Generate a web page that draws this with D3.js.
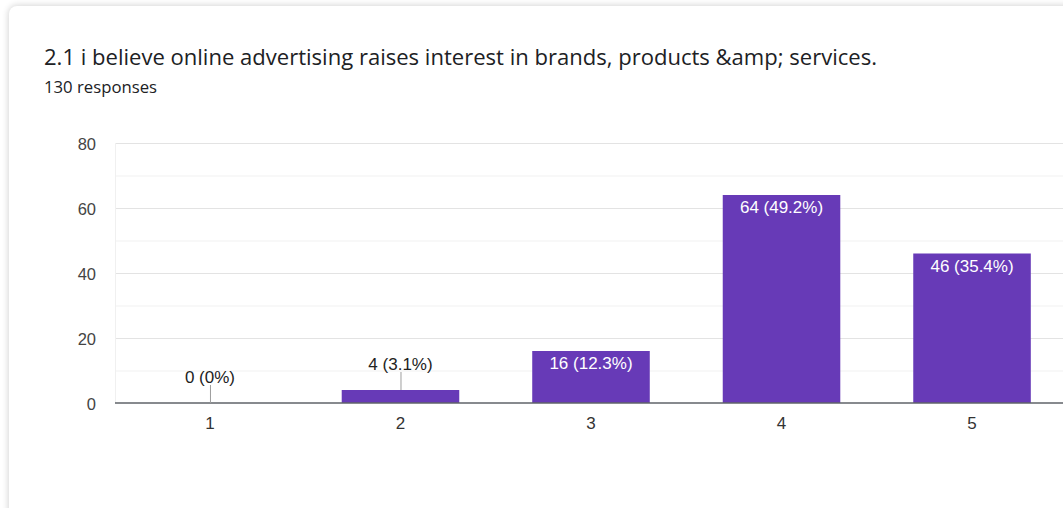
<!DOCTYPE html>
<html>
<head>
<meta charset="utf-8">
<script src="https://cdn.jsdelivr.net/npm/d3@7"></script>
<style>
  html, body { margin: 0; padding: 0; background: #fff; overflow: hidden; }
  body { width: 1063px; height: 508px; position: relative; }
  .card {
    position: absolute; left: 9px; top: 6px; width: 1100px; height: 560px;
    background: #fff; border-radius: 8px;
    box-shadow: 0 0 6px 1px rgba(0,0,0,0.16);
  }
  svg { position: absolute; left: 0; top: 0; }
</style>
</head>
<body>
<div class="card"></div>
<svg id="chart" width="1063" height="508"></svg>
<script>
const title = "2.1 i believe online advertising raises interest in brands, products &amp; services.";
const subtitle = "130 responses";
const categories = ["1", "2", "3", "4", "5"];
const counts = [0, 4, 16, 64, 46];
const percents = ["0%", "3.1%", "12.3%", "49.2%", "35.4%"];
const yTicks = [0, 20, 40, 60, 80];
const yMinorTicks = [10, 30, 50, 70];

const svg = d3.select("#chart");
const plot = { left: 115, right: 1067, top: 143, bottom: 403 };
const labelFont = "'Liberation Sans', Arial, sans-serif";

svg.append("text")
  .attr("x", 44).attr("y", 65)
  .attr("font-family", "'Open Sans', Roboto, sans-serif")
  .attr("font-size", 21.5)
  .attr("fill", "#202124")
  .attr("textLength", 833).attr("lengthAdjust", "spacingAndGlyphs")
  .text(title);

svg.append("text")
  .attr("x", 44).attr("y", 93)
  .attr("font-family", "'Open Sans', Roboto, sans-serif")
  .attr("font-size", 15.5)
  .attr("fill", "#202124")
  .attr("textLength", 113).attr("lengthAdjust", "spacingAndGlyphs")
  .text(subtitle);

const x = d3.scaleBand().domain(categories).range([plot.left, plot.right]).paddingInner(0.383).paddingOuter(0.19);
const y = d3.scaleLinear().domain([0, 80]).range([plot.bottom, plot.top]);

const g = svg.append("g");

// gridlines
g.selectAll("line.minor").data(yMinorTicks).join("line")
  .attr("x1", plot.left).attr("x2", plot.right)
  .attr("y1", d => y(d) + 0.5).attr("y2", d => y(d) + 0.5)
  .attr("stroke", "#f1f1f1").attr("stroke-width", 1);
g.selectAll("line.major").data(yTicks.filter(d => d > 0)).join("line")
  .attr("x1", plot.left).attr("x2", plot.right)
  .attr("y1", d => y(d) + 0.5).attr("y2", d => y(d) + 0.5)
  .attr("stroke", "#e3e3e3").attr("stroke-width", 1);
// left edge of plot
g.append("line")
  .attr("x1", plot.left + 0.5).attr("x2", plot.left + 0.5)
  .attr("y1", plot.top).attr("y2", plot.bottom)
  .attr("stroke", "#f0f0f0");

// y axis labels
const yAxis = d3.axisLeft(y).tickValues(yTicks).tickSize(0).tickPadding(19);
const ya = svg.append("g").attr("transform", `translate(${plot.left},1.5)`).call(yAxis);
ya.select(".domain").remove();
ya.selectAll("text")
  .attr("font-family", labelFont)
  .attr("font-size", 16.5).attr("fill", "#444");

// bars
const data = categories.map((c, i) => ({ c, v: counts[i], p: percents[i] }));
g.selectAll("rect.bar").data(data).join("rect")
  .attr("x", d => x(d.c)).attr("width", x.bandwidth())
  .attr("y", d => y(d.v)).attr("height", d => y(0) - y(d.v))
  .attr("fill", "#673ab7");

// baseline
g.append("line")
  .attr("x1", plot.left).attr("x2", plot.right)
  .attr("y1", y(0)).attr("y2", y(0))
  .attr("stroke", "#5f6368").attr("stroke-width", 1.5);

// x axis labels
const xAxis = d3.axisBottom(x).tickSize(0).tickPadding(14);
const xa = svg.append("g").attr("transform", `translate(0,${plot.bottom})`).call(xAxis);
xa.select(".domain").remove();
xa.selectAll("text")
  .attr("font-family", labelFont)
  .attr("font-size", 17).attr("fill", "#333");

// value labels: inside tall bars, above short ones with a leader line
const inside = d => y(0) - y(d.v) > 30;
const lab = g.selectAll("g.lab").data(data).join("g");
lab.filter(d => !inside(d)).append("line")
  .attr("x1", d => x(d.c) + x.bandwidth() / 2 + 0.5)
  .attr("x2", d => x(d.c) + x.bandwidth() / 2 + 0.5)
  .attr("y1", d => y(d.v) - 18).attr("y2", d => y(d.v))
  .attr("stroke", "#9e9e9e").attr("stroke-width", 1);
lab.append("text")
  .attr("x", d => x(d.c) + x.bandwidth() / 2)
  .attr("y", d => inside(d) ? y(d.v) + 18 : y(d.v) - 20)
  .attr("text-anchor", "middle")
  .attr("font-family", labelFont)
  .attr("font-size", 17)
  .attr("fill", d => inside(d) ? "#fff" : "#222")
  .text(d => `${d.v} (${d.p})`);
</script>
</body>
</html>
